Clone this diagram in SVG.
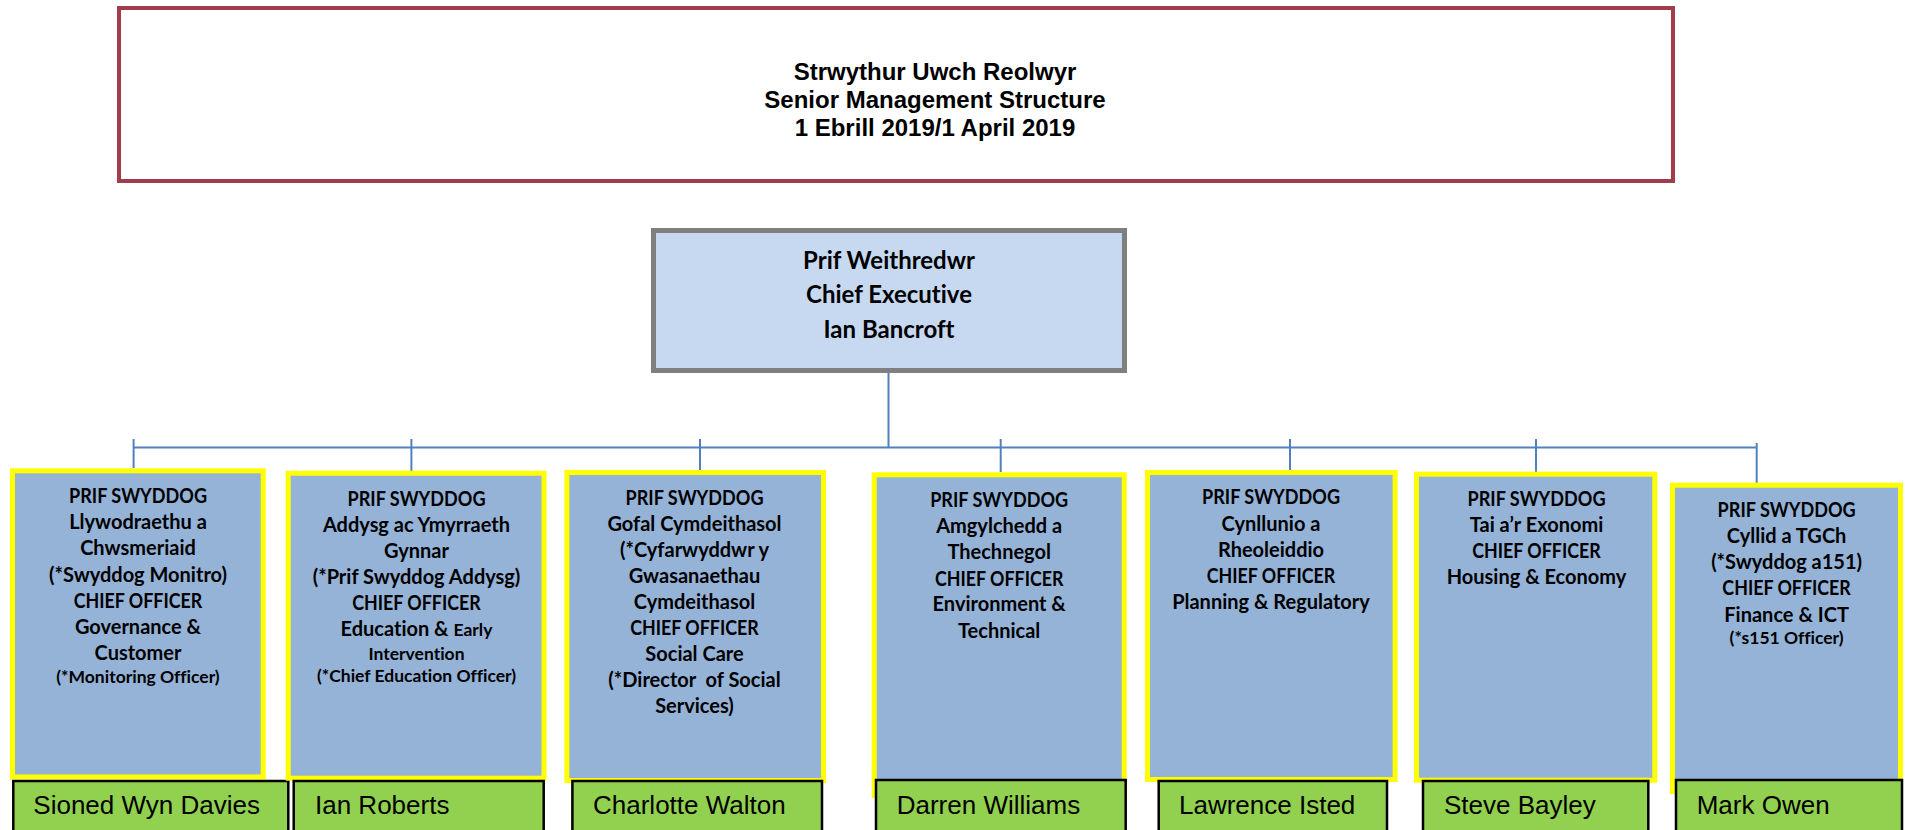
<svg xmlns="http://www.w3.org/2000/svg" width="1907" height="830" viewBox="0 0 1907 830">
<style>
.hdr{font-family:"Liberation Sans",Arial,sans-serif;font-weight:bold;font-size:24px;text-anchor:middle;fill:#000}
.ceo{font-family:Lato,"Noto Sans",sans-serif;font-weight:bold;font-size:24px;text-anchor:middle;fill:#000;font-variant-ligatures:none}
.t{font-family:Lato,"Noto Sans",sans-serif;font-weight:bold;font-size:20px;text-anchor:middle;fill:#000;font-variant-ligatures:none}
.s{font-size:17.5px}
.nm{font-family:"Liberation Sans",Arial,sans-serif;font-size:26px;fill:#000}
.yel{fill:#95B3D7;stroke:#FFFF00;stroke-width:5}
.grn{fill:#92D050;stroke:#000;stroke-width:2.5}
.conn{stroke:#4F81BD;stroke-width:2;fill:none}
</style>
<rect width="1907" height="830" fill="#fff"/>
<g id="title">
<rect x="119" y="8" width="1554" height="173" fill="#fff" stroke="#A23B4C" stroke-width="4"/>
<text class="hdr" x="935" y="80">Strwythur Uwch Reolwyr</text>
<text class="hdr" x="935" y="108">Senior Management Structure</text>
<text class="hdr" x="935" y="136">1 Ebrill 2019/1 April 2019</text>
</g>
<g id="connectors" class="conn">
<path d="M875 371 H888.5 V447.5"/>
<path d="M133.6 447.5 H1757"/>
<path d="M133.6 439 V468"/>
<path d="M411.4 439 V471"/>
<path d="M700 439 V470"/>
<path d="M1000.7 439 V472"/>
<path d="M1290 439 V470"/>
<path d="M1536 439 V472"/>
<path d="M1756.7 443 V483"/>
</g>
<g id="ceo">
<rect x="653.5" y="230.5" width="471" height="140" fill="#C6D9F1" stroke="#7F7F7F" stroke-width="5"/>
<text class="ceo" x="889" y="269">Prif Weithredwr</text>
<text class="ceo" x="889" y="303">Chief Executive</text>
<text class="ceo" x="889" y="338">Ian Bancroft</text>
</g>
<g id="officer1">
<rect class="yel" x="12.5" y="470.8" width="250.7" height="306.2"/>
<text class="t" x="138" y="503.3" textLength="138" lengthAdjust="spacingAndGlyphs">PRIF SWYDDOG</text>
<text class="t" x="138" y="529.3">Llywodraethu a</text>
<text class="t" x="138" y="555.3">Chwsmeriaid</text>
<text class="t" x="138" y="581.7">(*Swyddog Monitro)</text>
<text class="t" x="138" y="607.7" textLength="128.5" lengthAdjust="spacingAndGlyphs">CHIEF OFFICER</text>
<text class="t" x="138" y="633.7">Governance &amp;</text>
<text class="t" x="138" y="660">Customer</text>
<text class="t s" x="138" y="683.3">(*Monitoring Officer)</text>
<rect class="grn" x="13.3" y="781" width="275" height="60"/>
<text class="nm" x="33.3" y="814">Sioned Wyn Davies</text>
</g>
<g id="officer2">
<rect class="yel" x="288.2" y="473.2" width="255.8" height="305"/>
<text class="t" x="416.5" y="505.7" textLength="138" lengthAdjust="spacingAndGlyphs">PRIF SWYDDOG</text>
<text class="t" x="416.5" y="531.7">Addysg ac Ymyrraeth</text>
<text class="t" x="416.5" y="557.7">Gynnar</text>
<text class="t" x="416.5" y="584">(*Prif Swyddog Addysg)</text>
<text class="t" x="416.5" y="610" textLength="128.5" lengthAdjust="spacingAndGlyphs">CHIEF OFFICER</text>
<text class="t" x="416.5" y="635.7">Education &amp; <tspan class="s">Early</tspan></text>
<text class="t s" x="416.5" y="660">Intervention</text>
<text class="t s" x="416.5" y="682.3">(*Chief Education Officer)</text>
<rect class="grn" x="293.7" y="781" width="250" height="60"/>
<text class="nm" x="315" y="814">Ian Roberts</text>
</g>
<g id="officer3">
<rect class="yel" x="566.9" y="472.5" width="256.6" height="308"/>
<text class="t" x="694.5" y="505" textLength="138" lengthAdjust="spacingAndGlyphs">PRIF SWYDDOG</text>
<text class="t" x="694.5" y="531">Gofal Cymdeithasol</text>
<text class="t" x="694.5" y="556.7">(*Cyfarwyddwr y</text>
<text class="t" x="694.5" y="582.7">Gwasanaethau</text>
<text class="t" x="694.5" y="609">Cymdeithasol</text>
<text class="t" x="694.5" y="635" textLength="128.5" lengthAdjust="spacingAndGlyphs">CHIEF OFFICER</text>
<text class="t" x="694.5" y="660.7">Social Care</text>
<text class="t" x="694.5" y="686.7" xml:space="preserve">(*Director  of Social</text>
<text class="t" x="694.5" y="712.7">Services)</text>
<rect class="grn" x="572.4" y="781" width="249.6" height="60"/>
<text class="nm" x="593" y="814">Charlotte Walton</text>
</g>
<g id="officer4">
<rect class="yel" x="874.2" y="474.8" width="250" height="320.7"/>
<text class="t" x="999.2" y="506.7" textLength="138" lengthAdjust="spacingAndGlyphs">PRIF SWYDDOG</text>
<text class="t" x="999.2" y="532.7">Amgylchedd a</text>
<text class="t" x="999.2" y="559.3">Thechnegol</text>
<text class="t" x="999.2" y="585.7" textLength="128.5" lengthAdjust="spacingAndGlyphs">CHIEF OFFICER</text>
<text class="t" x="999.2" y="611">Environment &amp;</text>
<text class="t" x="999.2" y="637.7">Technical</text>
<rect class="grn" x="876" y="780" width="249.7" height="60"/>
<text class="nm" x="896.7" y="814">Darren Williams</text>
</g>
<g id="officer5">
<rect class="yel" x="1147.5" y="472.5" width="247.6" height="307"/>
<text class="t" x="1271" y="504.3" textLength="138" lengthAdjust="spacingAndGlyphs">PRIF SWYDDOG</text>
<text class="t" x="1271" y="530.7">Cynllunio a</text>
<text class="t" x="1271" y="556.7">Rheoleiddio</text>
<text class="t" x="1271" y="582.7" textLength="128.5" lengthAdjust="spacingAndGlyphs">CHIEF OFFICER</text>
<text class="t" x="1271" y="609.3">Planning &amp; Regulatory</text>
<rect class="grn" x="1158.7" y="781" width="228.3" height="60"/>
<text class="nm" x="1179" y="814">Lawrence Isted</text>
</g>
<g id="officer6">
<rect class="yel" x="1416.5" y="474.2" width="238.3" height="306"/>
<text class="t" x="1536.5" y="505.7" textLength="138" lengthAdjust="spacingAndGlyphs">PRIF SWYDDOG</text>
<text class="t" x="1536.5" y="532.3">Tai a’r Exonomi</text>
<text class="t" x="1536.5" y="558.3" textLength="128.5" lengthAdjust="spacingAndGlyphs">CHIEF OFFICER</text>
<text class="t" x="1536.5" y="584.3">Housing &amp; Economy</text>
<rect class="grn" x="1423" y="781" width="225.3" height="60"/>
<text class="nm" x="1444" y="814">Steve Bayley</text>
</g>
<g id="officer7">
<rect class="yel" x="1672.5" y="485.2" width="228" height="306.3"/>
<text class="t" x="1786.6" y="517.3" textLength="138" lengthAdjust="spacingAndGlyphs">PRIF SWYDDOG</text>
<text class="t" x="1786.6" y="543.3">Cyllid a TGCh</text>
<text class="t" x="1786.6" y="569.3">(*Swyddog a151)</text>
<text class="t" x="1786.6" y="595.3" textLength="128.5" lengthAdjust="spacingAndGlyphs">CHIEF OFFICER</text>
<text class="t" x="1786.6" y="621.7">Finance &amp; ICT</text>
<text class="t s" x="1786.6" y="644">(*s151 Officer)</text>
<rect class="grn" x="1676" y="780" width="226" height="60"/>
<text class="nm" x="1696.7" y="814">Mark Owen</text>
</g>
</svg>
